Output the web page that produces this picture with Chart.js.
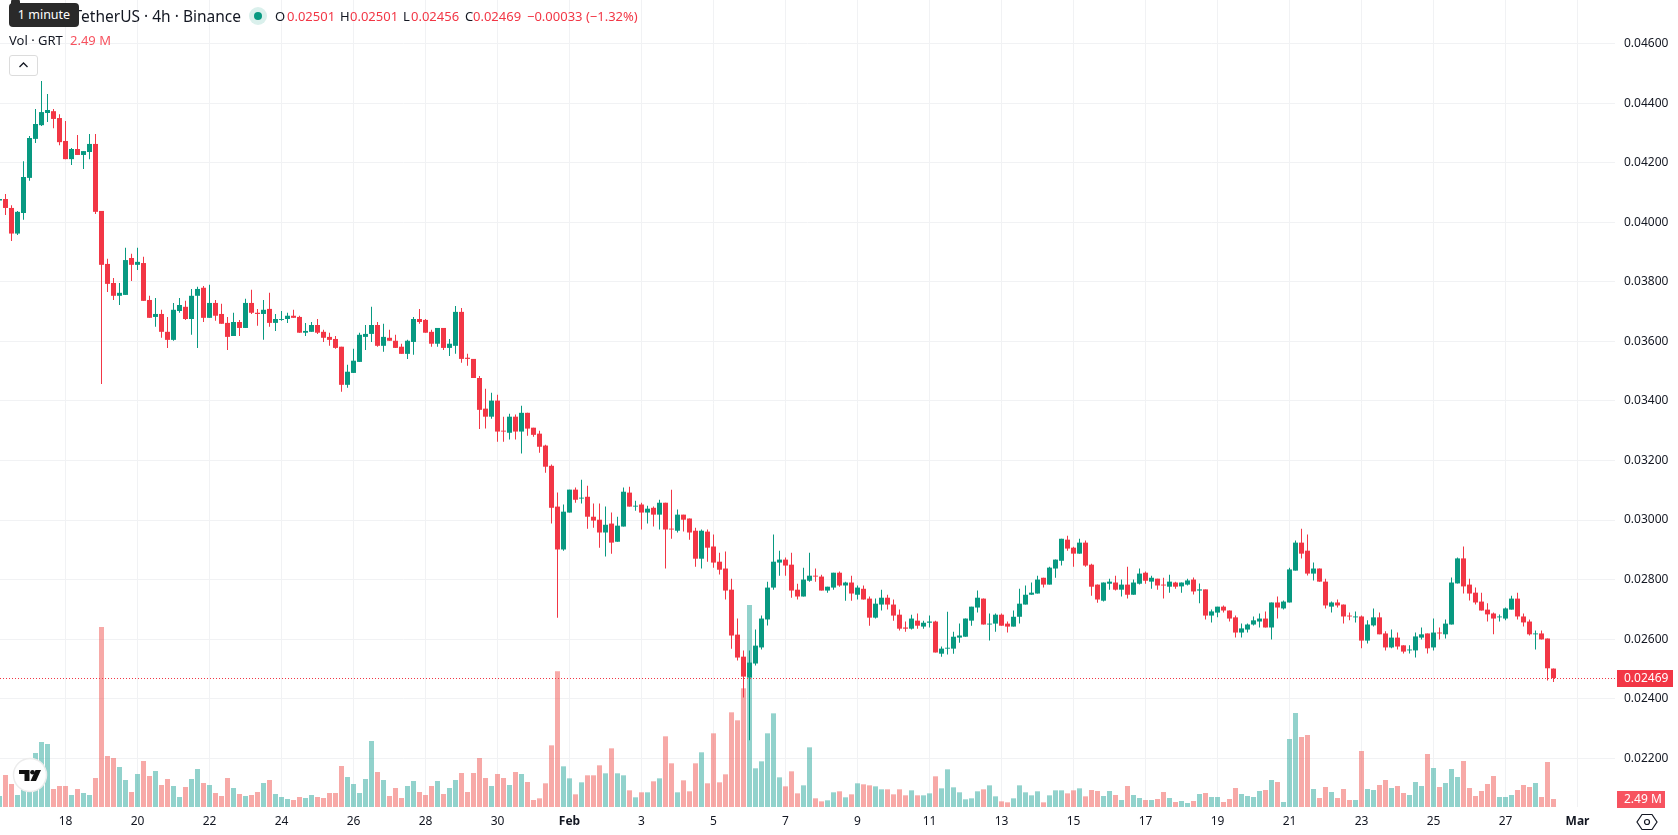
<!DOCTYPE html>
<html>
<head>
<meta charset="utf-8">
<title>GRT / TetherUS 4h</title>
<script src="https://cdn.jsdelivr.net/npm/chart.js@4/dist/chart.umd.min.js"></script>
<style>
html, body { margin: 0; padding: 0; background: #fff; overflow: hidden; }
#wrap { position: relative; width: 1678px; height: 835px; font-family: "Noto Sans", sans-serif; color: #131722; }
#priceChart { position: absolute; left: 0; top: 0; display: block; }
.lbl { position: absolute; white-space: nowrap; font-size: 13px; line-height: 18px; }
.red { color: #f23645; }
#title { right: 1437px; top: 4px; font-size: 15.5px; line-height: 24px; }
#tip { position: absolute; left: 9px; top: 3px; width: 70px; height: 24px; background: #2a2a2a; border-radius: 4px; color: #fff; font-size: 12.5px; line-height: 24px; text-align: center; }
#tipArrow { position: absolute; left: 11px; top: -1px; width: 9px; height: 9px; background: #2a2a2a; border-radius: 3px; }
#collapse { position: absolute; left: 9px; top: 55px; width: 27px; height: 19px; border: 1px solid #dcdcdc; border-radius: 3px; background: #fff; }
svg.icon { position: absolute; overflow: visible; }
</style>
</head>
<body>
<div id="wrap">
  <canvas id="priceChart" width="1678" height="835"></canvas>

  <!-- watermark -->
  <svg class="icon" style="left:0;top:0" width="70" height="835">
    <circle cx="30" cy="775" r="16.5" fill="#fff" stroke="#ececec" stroke-width="1.5"/>
    <path d="M19 770h10.5v11h-5v-7h-5.500z" fill="#111"/>
    <circle cx="32.500" cy="772.300" r="2.300" fill="#111"/>
    <path d="M35.500 770h5.500l-5 11h-5.500z" fill="#111"/>
  </svg>

  <div class="lbl" id="title">TetherUS · 4h · Binance</div>
  <div id="tipArrow"></div>
  <div id="tip">1 minute</div>

  <svg class="icon" style="left:248px;top:7px" width="20" height="20">
    <circle cx="10" cy="9" r="9" fill="#daf0ec"/>
    <circle cx="10" cy="9" r="4" fill="#089981"/>
  </svg>

  <div class="lbl" style="left:275px;top:7px">O</div>
  <div class="lbl red" style="left:287px;top:7px">0.02501</div>
  <div class="lbl" style="left:340px;top:7px">H</div>
  <div class="lbl red" style="left:350px;top:7px">0.02501</div>
  <div class="lbl" style="left:403px;top:7px">L</div>
  <div class="lbl red" style="left:411px;top:7px">0.02456</div>
  <div class="lbl" style="left:465px;top:7px">C</div>
  <div class="lbl red" style="left:473px;top:7px">0.02469</div>
  <div class="lbl red" style="left:527px;top:7px">−0.00033 (−1.32%)</div>

  <div class="lbl" style="left:9px;top:31px">Vol · GRT</div>
  <div class="lbl" style="left:70px;top:31px;color:#f7525f">2.49 M</div>

  <div id="collapse"></div>
  <svg class="icon" style="left:9px;top:55px" width="29" height="21">
    <path d="M10.500 12l4-4 4 4" fill="none" stroke="#131722" stroke-width="1.300"/>
  </svg>

  <!-- axis settings button -->
  <svg class="icon" style="left:1636px;top:812px" width="22" height="20">
    <path d="M6 2.500h10l5 7.500-5 7.500h-10l-5-7.500z" fill="none" stroke="#131722" stroke-width="1.200"/>
    <circle cx="11" cy="10" r="2.500" fill="none" stroke="#131722" stroke-width="1.200"/>
  </svg>
</div>

<script>
// x tick labels, one every 12 candles starting at candle 11
const tickLabels = ["18","20","22","24","26","28","30","Feb","3","5","7","9","11","13","15","17","19","21","23","25","27","Mar"];
const monthLabels = ["Feb", "Mar"];
const priceTicks = [0.046,0.044,0.042,0.040,0.038,0.036,0.034,0.032,0.030,0.028,0.026,0.024,0.022];

const opens = [
0.04073,0.04078,0.04048,0.03962,0.04031,0.04149,0.04280,0.04326,0.04367,0.04373,
0.04350,0.04273,0.04212,0.04246,0.04226,0.04236,0.04263,0.04038,0.03860,0.03796,
0.03753,0.03756,0.03880,0.03857,0.03863,0.03739,0.03682,0.03692,0.03632,0.03605,
0.03702,0.03716,0.03675,0.03753,0.03780,0.03679,0.03729,0.03692,0.03662,0.03618,
0.03665,0.03645,0.03729,0.03696,0.03692,0.03709,0.03662,0.03672,0.03675,0.03686,
0.03682,0.03629,0.03632,0.03655,0.03632,0.03615,0.03608,0.03582,0.03454,0.03494,
0.03531,0.03615,0.03625,0.03655,0.03585,0.03612,0.03602,0.03582,0.03558,0.03598,
0.03675,0.03672,0.03632,0.03592,0.03645,0.03578,0.03585,0.03699,0.03545,0.03541,
0.03477,0.03374,0.03347,0.03401,0.03300,0.03293,0.03347,0.03297,0.03360,0.03310,
0.03290,0.03250,0.03182,0.03045,0.02901,0.03025,0.03102,0.03072,0.03078,0.03011,
0.03001,0.02958,0.02988,0.02927,0.02978,0.03092,0.03045,0.03052,0.03025,0.03041,
0.03018,0.03058,0.02971,0.02964,0.03018,0.03005,0.02964,0.02870,0.02961,0.02911,
0.02860,0.02837,0.02766,0.02615,0.02541,0.02471,0.02518,0.02572,0.02666,0.02773,
0.02857,0.02867,0.02850,0.02766,0.02743,0.02796,0.02813,0.02810,0.02763,0.02773,
0.02823,0.02780,0.02790,0.02749,0.02769,0.02736,0.02672,0.02716,0.02739,0.02716,
0.02682,0.02639,0.02635,0.02662,0.02642,0.02655,0.02659,0.02551,0.02568,0.02568,
0.02605,0.02608,0.02662,0.02706,0.02736,0.02649,0.02652,0.02682,0.02652,0.02642,
0.02675,0.02716,0.02749,0.02753,0.02806,0.02783,0.02837,0.02863,0.02934,0.02907,
0.02887,0.02924,0.02850,0.02783,0.02729,0.02786,0.02790,0.02766,0.02783,0.02749,
0.02786,0.02823,0.02793,0.02803,0.02783,0.02776,0.02790,0.02777,0.02783,0.02800,
0.02763,0.02767,0.02679,0.02689,0.02709,0.02696,0.02673,0.02622,0.02632,0.02649,
0.02659,0.02669,0.02639,0.02723,0.02703,0.02723,0.02830,0.02924,0.02897,0.02820,
0.02837,0.02793,0.02709,0.02723,0.02716,0.02679,0.02673,0.02676,0.02595,0.02646,
0.02673,0.02619,0.02572,0.02605,0.02579,0.02562,0.02562,0.02605,0.02619,0.02572,
0.02622,0.02616,0.02649,0.02787,0.02871,0.02783,0.02756,0.02726,0.02699,0.02686,
0.02673,0.02669,0.02699,0.02736,0.02676,0.02659,0.02616,0.02619,0.02602,0.02501
];

const highs = [
0.04086,0.04095,0.04057,0.04038,0.04205,0.04290,0.04380,0.04474,0.04431,0.04380,
0.04363,0.04340,0.04249,0.04293,0.04239,0.04296,0.04296,0.04038,0.03877,0.03813,
0.03796,0.03914,0.03894,0.03914,0.03884,0.03753,0.03746,0.03706,0.03682,0.03729,
0.03746,0.03736,0.03776,0.03783,0.03786,0.03790,0.03739,0.03726,0.03682,0.03696,
0.03672,0.03743,0.03773,0.03709,0.03739,0.03763,0.03692,0.03702,0.03696,0.03706,
0.03686,0.03662,0.03665,0.03675,0.03639,0.03629,0.03618,0.03582,0.03521,0.03575,
0.03629,0.03655,0.03716,0.03665,0.03659,0.03639,0.03622,0.03592,0.03605,0.03682,
0.03709,0.03675,0.03639,0.03645,0.03645,0.03608,0.03719,0.03712,0.03558,0.03541,
0.03484,0.03441,0.03427,0.03421,0.03347,0.03357,0.03354,0.03384,0.03360,0.03310,
0.03300,0.03253,0.03186,0.03092,0.03052,0.03102,0.03109,0.03135,0.03115,0.03055,
0.03055,0.03045,0.03025,0.03011,0.03109,0.03112,0.03065,0.03058,0.03048,0.03045,
0.03068,0.03058,0.03102,0.03035,0.03018,0.03005,0.02974,0.02968,0.02968,0.02951,
0.02890,0.02894,0.02803,0.02669,0.02562,0.02562,0.02632,0.02679,0.02793,0.02951,
0.02897,0.02874,0.02890,0.02786,0.02840,0.02890,0.02837,0.02816,0.02776,0.02823,
0.02827,0.02793,0.02813,0.02780,0.02780,0.02743,0.02736,0.02766,0.02749,0.02733,
0.02699,0.02659,0.02682,0.02686,0.02662,0.02679,0.02662,0.02575,0.02692,0.02625,
0.02652,0.02669,0.02709,0.02763,0.02736,0.02686,0.02686,0.02686,0.02659,0.02696,
0.02769,0.02780,0.02790,0.02813,0.02806,0.02843,0.02867,0.02937,0.02947,0.02910,
0.02937,0.02931,0.02853,0.02783,0.02790,0.02803,0.02813,0.02800,0.02843,0.02800,
0.02837,0.02827,0.02813,0.02803,0.02806,0.02816,0.02793,0.02790,0.02803,0.02807,
0.02787,0.02767,0.02699,0.02709,0.02713,0.02696,0.02679,0.02652,0.02652,0.02676,
0.02686,0.02693,0.02723,0.02743,0.02730,0.02840,0.02931,0.02971,0.02951,0.02857,
0.02837,0.02803,0.02726,0.02733,0.02716,0.02689,0.02693,0.02679,0.02663,0.02703,
0.02689,0.02626,0.02632,0.02622,0.02579,0.02579,0.02622,0.02639,0.02619,0.02669,
0.02639,0.02666,0.02807,0.02874,0.02911,0.02803,0.02773,0.02756,0.02720,0.02689,
0.02683,0.02706,0.02746,0.02756,0.02686,0.02666,0.02629,0.02629,0.02602,0.02501
];

const lows = [
0.04069,0.04024,0.03937,0.03957,0.04008,0.04139,0.04266,0.04323,0.04337,0.04316,
0.04259,0.04212,0.04192,0.04226,0.04179,0.04212,0.04028,0.03457,0.03766,0.03739,
0.03722,0.03756,0.03803,0.03840,0.03736,0.03679,0.03649,0.03612,0.03578,0.03602,
0.03696,0.03672,0.03622,0.03578,0.03665,0.03679,0.03669,0.03659,0.03571,0.03618,
0.03618,0.03645,0.03692,0.03652,0.03605,0.03649,0.03635,0.03669,0.03662,0.03679,
0.03629,0.03618,0.03632,0.03625,0.03598,0.03585,0.03575,0.03431,0.03444,0.03494,
0.03531,0.03571,0.03598,0.03582,0.03565,0.03602,0.03578,0.03558,0.03541,0.03555,
0.03659,0.03629,0.03582,0.03582,0.03571,0.03551,0.03558,0.03528,0.03518,0.03477,
0.03306,0.03307,0.03340,0.03263,0.03263,0.03270,0.03270,0.03223,0.03283,0.03280,
0.03226,0.03159,0.02988,0.02672,0.02897,0.03025,0.03058,0.03055,0.02971,0.02974,
0.02907,0.02877,0.02887,0.02927,0.02978,0.03045,0.03031,0.02968,0.02988,0.02978,
0.02968,0.02837,0.02937,0.02958,0.02961,0.02934,0.02843,0.02837,0.02860,0.02840,
0.02817,0.02733,0.02568,0.02528,0.02404,0.02260,0.02511,0.02565,0.02646,0.02766,
0.02813,0.02813,0.02739,0.02733,0.02743,0.02793,0.02793,0.02763,0.02756,0.02766,
0.02776,0.02729,0.02729,0.02733,0.02733,0.02645,0.02669,0.02696,0.02699,0.02662,
0.02629,0.02625,0.02632,0.02635,0.02635,0.02639,0.02555,0.02541,0.02548,0.02551,
0.02588,0.02608,0.02645,0.02689,0.02649,0.02595,0.02625,0.02645,0.02622,0.02642,
0.02652,0.02716,0.02749,0.02753,0.02773,0.02783,0.02806,0.02847,0.02897,0.02843,
0.02887,0.02843,0.02746,0.02722,0.02726,0.02766,0.02763,0.02743,0.02736,0.02749,
0.02783,0.02786,0.02769,0.02766,0.02736,0.02756,0.02769,0.02756,0.02780,0.02750,
0.02720,0.02666,0.02656,0.02673,0.02689,0.02659,0.02605,0.02605,0.02622,0.02646,
0.02639,0.02639,0.02599,0.02669,0.02699,0.02723,0.02830,0.02871,0.02814,0.02797,
0.02793,0.02703,0.02689,0.02706,0.02652,0.02663,0.02656,0.02569,0.02585,0.02642,
0.02616,0.02562,0.02569,0.02565,0.02552,0.02552,0.02538,0.02599,0.02552,0.02562,
0.02599,0.02602,0.02649,0.02787,0.02753,0.02730,0.02716,0.02696,0.02659,0.02616,
0.02659,0.02663,0.02699,0.02666,0.02642,0.02612,0.02565,0.02599,0.02461,0.02456
];

const closes = [
0.04078,0.04048,0.03962,0.04035,0.04152,0.04283,0.04330,0.04370,0.04377,0.04347,
0.04269,0.04212,0.04246,0.04226,0.04239,0.04263,0.04035,0.03857,0.03793,0.03753,
0.03763,0.03873,0.03857,0.03867,0.03736,0.03679,0.03692,0.03632,0.03605,0.03706,
0.03722,0.03675,0.03753,0.03776,0.03679,0.03729,0.03686,0.03659,0.03615,0.03665,
0.03645,0.03729,0.03696,0.03692,0.03706,0.03662,0.03675,0.03675,0.03686,0.03679,
0.03629,0.03635,0.03655,0.03629,0.03612,0.03605,0.03578,0.03454,0.03498,0.03535,
0.03622,0.03625,0.03655,0.03585,0.03615,0.03602,0.03578,0.03558,0.03602,0.03675,
0.03665,0.03629,0.03592,0.03645,0.03578,0.03592,0.03699,0.03541,0.03541,0.03477,
0.03370,0.03347,0.03401,0.03297,0.03297,0.03347,0.03297,0.03360,0.03307,0.03286,
0.03246,0.03179,0.03041,0.02901,0.03028,0.03102,0.03068,0.03075,0.03011,0.02998,
0.02958,0.02984,0.02924,0.02981,0.03095,0.03045,0.03048,0.03025,0.03038,0.03018,
0.03058,0.02968,0.02968,0.03018,0.03001,0.02958,0.02870,0.02964,0.02907,0.02857,
0.02833,0.02763,0.02612,0.02538,0.02474,0.02521,0.02578,0.02669,0.02773,0.02860,
0.02867,0.02847,0.02763,0.02743,0.02800,0.02813,0.02810,0.02763,0.02776,0.02823,
0.02780,0.02790,0.02753,0.02773,0.02733,0.02672,0.02719,0.02739,0.02716,0.02679,
0.02635,0.02635,0.02669,0.02645,0.02655,0.02659,0.02555,0.02568,0.02571,0.02608,
0.02612,0.02669,0.02709,0.02739,0.02649,0.02652,0.02682,0.02645,0.02642,0.02675,
0.02719,0.02749,0.02756,0.02800,0.02783,0.02840,0.02867,0.02937,0.02904,0.02887,
0.02924,0.02847,0.02776,0.02733,0.02790,0.02793,0.02766,0.02783,0.02749,0.02790,
0.02820,0.02796,0.02806,0.02780,0.02780,0.02793,0.02776,0.02790,0.02797,0.02760,
0.02767,0.02679,0.02693,0.02709,0.02696,0.02669,0.02622,0.02636,0.02649,0.02663,
0.02669,0.02639,0.02723,0.02706,0.02726,0.02834,0.02924,0.02887,0.02820,0.02837,
0.02793,0.02713,0.02723,0.02713,0.02676,0.02676,0.02676,0.02595,0.02649,0.02673,
0.02616,0.02572,0.02605,0.02575,0.02558,0.02565,0.02609,0.02616,0.02569,0.02622,
0.02619,0.02652,0.02790,0.02871,0.02777,0.02753,0.02723,0.02696,0.02683,0.02669,
0.02676,0.02703,0.02736,0.02676,0.02656,0.02616,0.02619,0.02599,0.02502,0.02469
];

// volume in millions
const volumes = [
3.42,9.96,7.16,3.74,9.44,12.55,16.81,20.23,19.61,5.60,
6.54,6.54,3.74,5.60,4.36,3.74,9.03,56.03,15.87,15.25,
12.45,8.40,4.67,10.27,14.32,9.65,11.21,6.85,8.72,6.54,
3.11,6.23,8.72,11.83,7.47,6.85,4.36,3.42,9.03,5.91,
4.05,3.42,3.74,4.67,7.47,8.40,4.05,3.11,2.49,2.18,
3.11,2.80,3.74,3.11,2.80,4.36,4.36,12.76,9.34,7.16,
4.36,8.72,20.54,10.89,8.40,3.42,5.91,2.80,6.54,8.09,
4.67,3.74,6.54,8.09,4.05,5.91,8.40,10.58,4.67,10.58,
15.25,9.03,6.54,10.27,9.03,6.85,10.89,10.27,7.78,2.18,
2.70,7.37,19.19,42.23,12.66,8.92,3.94,7.68,9.86,9.86,
12.97,10.48,18.26,10.48,9.86,5.19,3.01,4.57,4.57,7.99,
8.92,22.00,13.59,4.57,8.30,4.88,13.59,17.02,7.37,22.93,
7.68,10.17,29.47,26.98,36.94,62.87,12.04,14.21,22.93,29.15,
9.23,6.43,11.10,4.25,6.74,18.57,2.70,1.76,2.08,4.57,
4.88,3.01,3.94,7.37,7.06,6.74,6.43,5.50,5.50,3.94,
5.50,3.63,5.19,3.63,3.63,4.25,9.55,5.81,11.72,6.12,
4.57,2.39,2.70,4.88,5.50,6.74,3.32,1.76,1.45,2.70,
6.74,4.57,3.63,4.88,1.45,3.63,5.19,5.19,4.25,5.19,
5.81,3.32,5.29,4.98,3.42,4.98,3.74,2.18,6.54,3.74,
2.80,2.18,2.18,2.49,4.67,2.80,1.56,1.87,1.25,1.87,
4.05,4.36,3.11,3.11,1.56,2.49,5.91,4.05,3.42,3.11,
4.98,5.29,8.40,7.78,1.56,21.17,29.26,21.79,22.41,5.60,
2.80,6.23,4.67,2.80,5.60,2.18,2.18,17.43,5.60,5.29,
6.85,8.40,5.91,6.54,4.36,3.74,7.78,6.54,16.50,12.14,
6.23,7.47,11.83,9.34,14.32,5.91,3.42,4.98,7.16,9.65,
3.11,3.11,3.74,5.29,6.85,6.23,7.47,3.11,14.01,2.49
];

const lastClose = closes[closes.length - 1];
const lastVolume = volumes[volumes.length - 1];

const UP = "#089981";
const DOWN = "#f23645";
const UP_VOL = "rgba(38,166,154,0.5)";
const DOWN_VOL = "rgba(239,83,80,0.5)";
const GRID = "#f1f2f4";

// scale geometry: 6px per candle, 29775px per 1.0 of price
const PLOT_W = 1615;
const PLOT_H = 807;
const pxPerCandle = 6;
const pxPerPrice = 29775;
const pxPerMillion = 3.2129;
const xMin = 0.5 / pxPerCandle;
const xMax = (PLOT_W + 0.5) / pxPerCandle;
const yMax = 0.046 + 43.6 / pxPerPrice;
const yMin = yMax - PLOT_H / pxPerPrice;

const candleColors = opens.map((o, i) => closes[i] >= o ? UP : DOWN);
const volumeColors = opens.map((o, i) => closes[i] >= o ? UP_VOL : DOWN_VOL);

// dotted last price line, snapped to a pixel row
const lastPriceLine = {
    id: "lastPriceLine",
    afterDatasetsDraw(chart) {
        const ctx = chart.ctx;
        const y = Math.floor(chart.scales.y.getPixelForValue(lastClose)) + 0.5;
        ctx.save();
        ctx.strokeStyle = DOWN;
        ctx.lineWidth = 1;
        ctx.setLineDash([1, 2]);
        ctx.beginPath();
        ctx.moveTo(chart.chartArea.left, y);
        ctx.lineTo(chart.chartArea.right, y);
        ctx.stroke();
        ctx.restore();
    }
};

// small coloured tags on the price axis
const axisTags = {
    id: "axisTags",
    afterDraw(chart) {
        const ctx = chart.ctx;
        const drawTag = (y, w, color, text) => {
            ctx.fillStyle = color;
            ctx.fillRect(1617, Math.round(y) - 8, w, 17);
            ctx.fillStyle = "#fff";
            ctx.font = '12px "Noto Sans"';
            ctx.textAlign = "left";
            ctx.textBaseline = "middle";
            ctx.fillText(text, 1624, Math.round(y) + 1);
        };
        drawTag(chart.scales.y.getPixelForValue(lastClose), 56, DOWN, lastClose.toFixed(5));
        drawTag(chart.scales.yVol.getPixelForValue(lastVolume), 48, "#f7525f", lastVolume.toFixed(2) + " M");
    }
};

new Chart(document.getElementById("priceChart"), {
    data: {
        datasets: [
            {
                type: "bar",
                label: "Vol",
                yAxisID: "yVol",
                order: 3,
                data: volumes.map((v, i) => ({ x: i, y: v })),
                backgroundColor: volumeColors,
                barThickness: 5,
                grouped: false,
                inflateAmount: 0
            },
            {
                type: "bar",
                label: "Wick",
                yAxisID: "y",
                order: 2,
                data: lows.map((l, i) => ({ x: i, y: [l, highs[i]] })),
                backgroundColor: candleColors,
                barThickness: 1,
                grouped: false,
                inflateAmount: 0
            },
            {
                type: "bar",
                label: "Body",
                yAxisID: "y",
                order: 1,
                data: opens.map((o, i) => ({ x: i, y: [o, closes[i]] })),
                backgroundColor: candleColors,
                barThickness: 5,
                grouped: false,
                inflateAmount: 0
            }
        ]
    },
    options: {
        responsive: false,
        animation: false,
        events: [],
        layout: { padding: 0 },
        plugins: { legend: { display: false }, tooltip: { enabled: false } },
        scales: {
            x: {
                type: "linear",
                bounds: "data",
                offset: false,
                min: xMin,
                max: xMax,
                afterBuildTicks: scale => {
                    scale.ticks = tickLabels.map((_, i) => ({ value: 11 + 12 * i }));
                },
                // no label overhang, the plot runs edge to edge
                afterFit: scale => {
                    scale.height = 835 - PLOT_H;
                    scale.paddingLeft = 0;
                    scale.paddingRight = 0;
                },
                grid: { color: GRID, drawTicks: false, offset: false },
                border: { display: false },
                ticks: {
                    autoSkip: false,
                    maxRotation: 0,
                    padding: 7,
                    color: "#131722",
                    font: ctx => ({
                        family: "Noto Sans",
                        size: 12,
                        weight: monthLabels.includes(tickLabels[ctx.index]) ? "bold" : "normal"
                    }),
                    callback: (value, i) => tickLabels[i]
                }
            },
            y: {
                position: "right",
                bounds: "data",
                min: yMin,
                max: yMax,
                afterBuildTicks: scale => {
                    scale.ticks = priceTicks.map(v => ({ value: v }));
                },
                afterFit: scale => {
                    scale.width = 1678 - PLOT_W;
                    scale.paddingTop = 0;
                    scale.paddingBottom = 0;
                },
                grid: { color: GRID, drawTicks: false },
                border: { display: false },
                ticks: {
                    autoSkip: false,
                    padding: 9,
                    color: "#131722",
                    font: { family: "Noto Sans", size: 12 },
                    callback: value => value.toFixed(5)
                }
            },
            yVol: {
                display: false,
                min: 0,
                max: PLOT_H / pxPerMillion
            }
        }
    },
    plugins: [lastPriceLine, axisTags]
});
</script>
</body>
</html>
